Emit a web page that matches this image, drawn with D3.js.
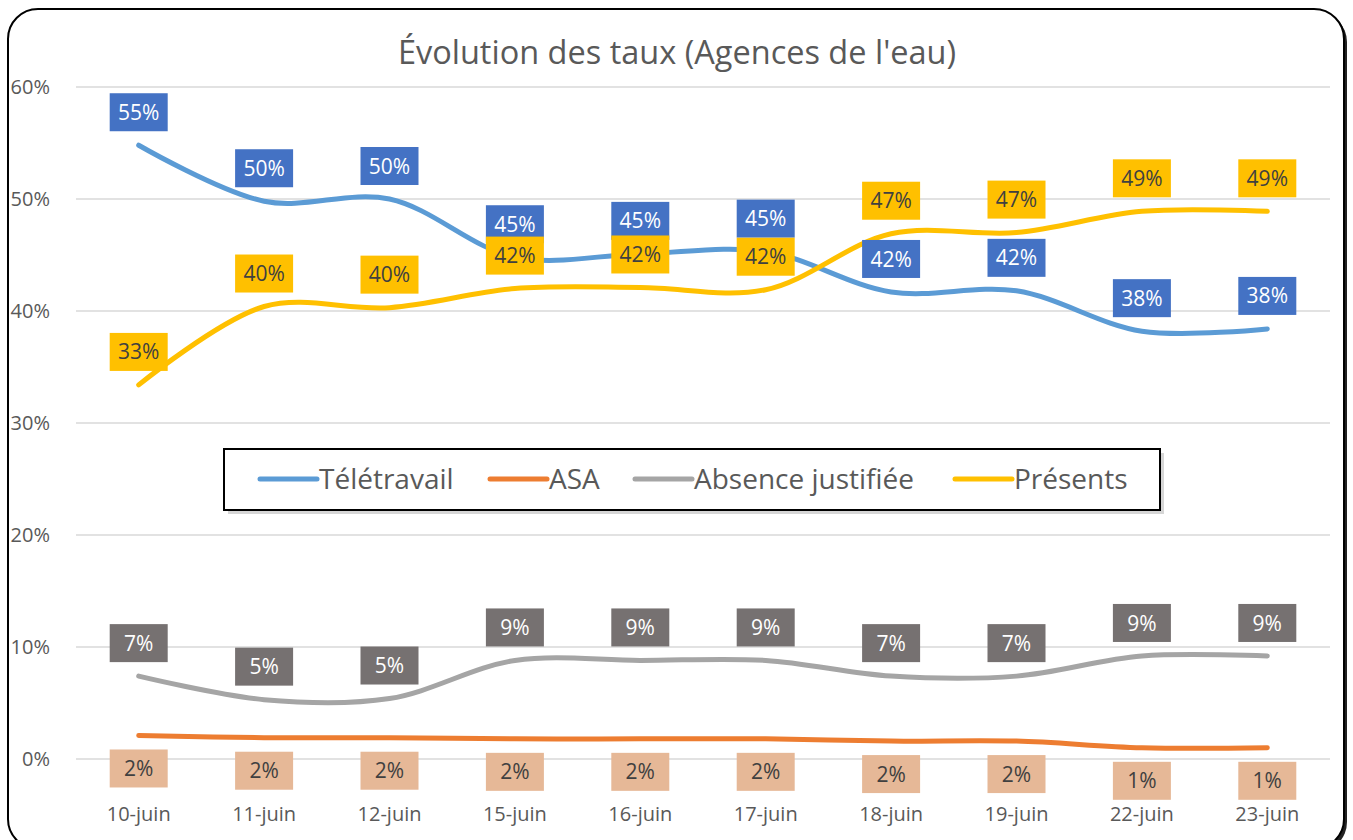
<!DOCTYPE html>
<html>
<head>
<meta charset="utf-8">
<script src="https://cdnjs.cloudflare.com/ajax/libs/d3/7.8.5/d3.min.js"></script>
<style>
  body { margin: 0; background: #fff; }
  text { font-family: "Open Sans", "Noto Sans", sans-serif; }
</style>
</head>
<body>
<script>
// data (percent)
var days = ["10-juin", "11-juin", "12-juin", "15-juin", "16-juin", "17-juin", "18-juin", "19-juin", "22-juin", "23-juin"];
var teletravail = [54.8, 49.8, 50.0, 44.8, 45.1, 45.3, 41.7, 41.8, 38.2, 38.4];
var asa = [2.1, 1.9, 1.9, 1.8, 1.8, 1.8, 1.6, 1.6, 1.0, 1.0];
var absence = [7.4, 5.3, 5.4, 8.8, 8.8, 8.8, 7.4, 7.4, 9.2, 9.2];
var presents = [33.4, 40.4, 40.3, 42.0, 42.1, 41.9, 46.9, 47.0, 48.9, 48.9];
var yTicks = [0, 10, 20, 30, 40, 50, 60];

var series = [
  {name: "Télétravail", values: teletravail, color: "#5B9BD5", box: "#4472C4", txt: "#fff", pos: "above"},
  {name: "ASA", values: asa, color: "#ED7D31", box: "#E6B897", txt: "#404040", pos: "below"},
  {name: "Absence justifiée", values: absence, color: "#A5A5A5", box: "#767171", txt: "#fff", pos: "above"},
  {name: "Présents", values: presents, color: "#FFC000", box: "#FFC000", txt: "#404040", pos: "above"}
];

var W = 1353, H = 840;
var plot = {left: 76, right: 1330, top: 87, bottom: 759};

var svg = d3.select("body").append("svg")
    .attr("width", W)
    .attr("height", H);

// chart frame with a small drop shadow
svg.append("rect")
    .attr("x", 11).attr("y", 12)
    .attr("width", 1336).attr("height", 840)
    .attr("rx", 30).attr("fill", "#222");
svg.append("rect")
    .attr("x", 8).attr("y", 9)
    .attr("width", 1336).attr("height", 840)
    .attr("rx", 30)
    .attr("fill", "#fff").attr("stroke", "#000").attr("stroke-width", 2);

var x = d3.scaleBand().domain(days).range([plot.left, plot.right]);
var y = d3.scaleLinear().domain([0, 60]).range([plot.bottom, plot.top]);
var cx = function(d) { return x(d) + x.bandwidth() / 2; };

// title
svg.append("text")
    .attr("x", 677).attr("y", 64)
    .attr("text-anchor", "middle")
    .attr("font-size", 32.5)
    .attr("fill", "#595959")
    .text("Évolution des taux (Agences de l'eau)");

// gridlines
svg.append("g").selectAll("line")
  .data(yTicks)
  .enter().append("line")
    .attr("x1", plot.left).attr("x2", plot.right)
    .attr("y1", function(d) { return y(d); })
    .attr("y2", function(d) { return y(d); })
    .attr("stroke", "#d9d9d9").attr("stroke-width", 1.5);

// y axis labels
var yAxis = svg.append("g")
    .attr("transform", "translate(" + (plot.left - 23) + ",0)")
    .call(d3.axisLeft(y).tickValues(yTicks).tickSize(0).tickFormat(function(d) { return d + "%"; }));
yAxis.select(".domain").remove();
yAxis.selectAll("text")
    .attr("font-size", 20).attr("fill", "#595959")
    .attr("font-family", "Open Sans, Noto Sans, sans-serif");

// x axis labels
var xAxis = svg.append("g")
    .attr("transform", "translate(0," + (plot.bottom + 45) + ")")
    .call(d3.axisBottom(x).tickSize(0));
xAxis.select(".domain").remove();
xAxis.selectAll("text")
    .attr("font-size", 20).attr("fill", "#595959")
    .attr("font-family", "Open Sans, Noto Sans, sans-serif");

var line = d3.line()
    .x(function(d, i) { return cx(days[i]); })
    .y(function(d) { return y(d); })
    .curve(d3.curveCatmullRom.alpha(0.5));

svg.append("g").selectAll("path")
  .data(series)
  .enter().append("path")
    .attr("d", function(s) { return line(s.values); })
    .attr("fill", "none")
    .attr("stroke", function(s) { return s.color; })
    .attr("stroke-width", 5)
    .attr("stroke-linecap", "round");

// data labels
var bw = 58, bh = 38, off = 33;
series.forEach(function(s) {
  var g = svg.append("g").selectAll("g")
    .data(s.values)
    .enter().append("g")
      .attr("transform", function(d, i) {
        var yy = y(d) + (s.pos === "above" ? -off : off);
        return "translate(" + cx(days[i]) + "," + yy + ")";
      });
  g.append("rect")
      .attr("x", -bw / 2).attr("y", -bh / 2)
      .attr("width", bw).attr("height", bh)
      .attr("fill", s.box);
  g.append("text")
      .attr("text-anchor", "middle")
      .attr("dy", "0.36em")
      .attr("font-size", 21)
      .attr("fill", s.txt)
      .text(function(d) { return Math.round(d) + "%"; });
});

// legend
var lg = svg.append("g");
lg.append("rect")
    .attr("x", 228).attr("y", 453).attr("width", 936).attr("height", 61)
    .attr("fill", "#bbb").attr("opacity", 0.6);
lg.append("rect")
    .attr("x", 224).attr("y", 449).attr("width", 936).attr("height", 61)
    .attr("fill", "#fff").attr("stroke", "#000").attr("stroke-width", 2);

var legX = [260, 490, 635, 955];
series.forEach(function(s, i) {
  lg.append("line")
      .attr("x1", legX[i]).attr("x2", legX[i] + 57)
      .attr("y1", 479).attr("y2", 479)
      .attr("stroke", s.color).attr("stroke-width", 5)
      .attr("stroke-linecap", "round");
  lg.append("text")
      .attr("x", legX[i] + 59).attr("y", 479)
      .attr("dy", "0.35em")
      .attr("font-size", 28)
      .attr("fill", "#595959")
      .text(s.name);
});
</script>
</body>
</html>
